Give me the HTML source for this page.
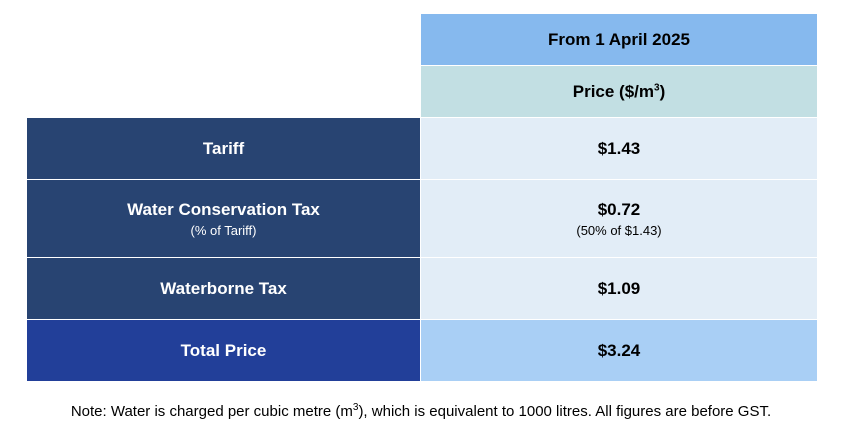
<!DOCTYPE html>
<html><head><meta charset="utf-8"><style>
body{margin:0;width:842px;height:441px;background:#fff;font-family:"Liberation Sans",sans-serif;position:relative;overflow:hidden}
.c{position:absolute;display:flex;flex-direction:column;align-items:center;justify-content:center;font-weight:bold;font-size:17px;color:#000;text-align:center}
.l{color:#fff;background:#284472}
.r{background:#e2edf7}
.s{font-weight:normal;font-size:13px;margin-top:3px}
sup{font-size:10px}
</style></head><body>
<div class="c" style="left:421px;top:14px;width:396px;height:51px;background:#86b9ee">From 1 April 2025</div>
<div class="c" style="left:421px;top:66px;width:396px;height:51px;background:#c2dfe3"><span>Price ($/m<sup>3</sup>)</span></div>
<div class="c l" style="left:27px;top:118px;width:393px;height:61px">Tariff</div>
<div class="c r" style="left:421px;top:118px;width:396px;height:61px">$1.43</div>
<div class="c l" style="left:27px;top:180px;width:393px;height:77px"><span>Water Conservation Tax</span><span class="s">(% of Tariff)</span></div>
<div class="c r" style="left:421px;top:180px;width:396px;height:77px"><span>$0.72</span><span class="s">(50% of $1.43)</span></div>
<div class="c l" style="left:27px;top:258px;width:393px;height:61px">Waterborne Tax</div>
<div class="c r" style="left:421px;top:258px;width:396px;height:61px">$1.09</div>
<div class="c" style="left:27px;top:320px;width:393px;height:61px;background:#223f99;color:#fff">Total Price</div>
<div class="c" style="left:421px;top:320px;width:396px;height:61px;background:#a9cff5">$3.24</div>
<div style="position:absolute;left:0;width:842px;top:402px;text-align:center;font-size:15px;color:#000">Note: Water is charged per cubic metre (m<sup>3</sup>), which is equivalent to 1000 litres. All figures are before GST.</div>
</body></html>
